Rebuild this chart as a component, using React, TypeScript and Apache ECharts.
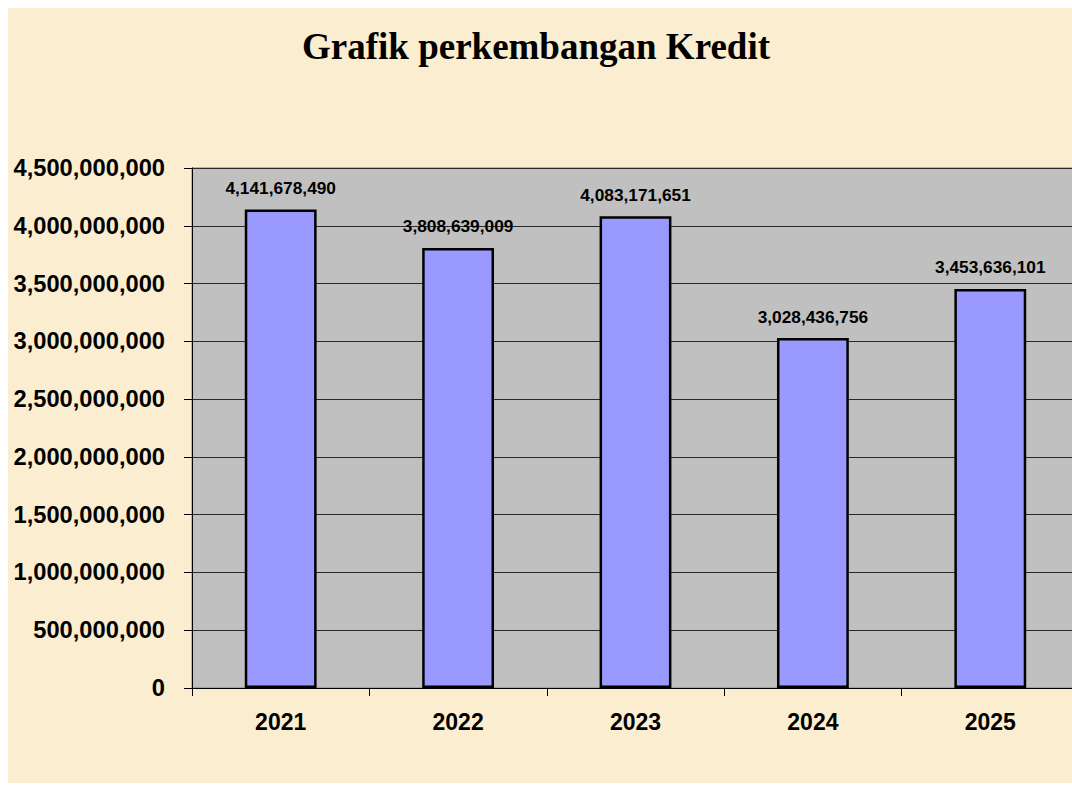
import React, { useEffect, useRef } from "react";
import * as echarts from "echarts";

const title = "Grafik perkembangan Kredit";
const years = ["2021", "2022", "2023", "2024", "2025"];
const kredit = [4141678490, 3808639009, 4083171651, 3028436756, 3453636101];
const yMin = 0;
const yMax = 4500000000;
const yStep = 500000000;

const fmt = (v: number) => Math.round(v).toLocaleString("en-US");

export default function App() {
  const ref = useRef<HTMLDivElement>(null);
  useEffect(() => {
    if (!ref.current) return;
    const chart = echarts.init(ref.current, undefined, { renderer: "svg" });
    chart.setOption({
      animation: false,
      backgroundColor: "#faedd0",
      title: {
        text: title,
        left: 289,
        top: 15,
        textStyle: {
          fontFamily: "'Liberation Serif', 'Times New Roman', serif",
          fontWeight: "bold",
          fontSize: 37,
          color: "#000",
        },
      },
      grid: {
        left: 184,
        top: 160,
        width: 887,
        height: 520,
        outerBoundsMode: "none",
        show: true,
        backgroundColor: "#c0c0c0",
        borderColor: "#808080",
        borderWidth: 1,
      },
      xAxis: {
        type: "category",
        data: years,
        axisLine: { show: true, lineStyle: { color: "#000", width: 1 } },
        axisTick: { show: true, alignWithLabel: false, length: 8, lineStyle: { color: "#000" } },
        axisLabel: {
          margin: 22,
          fontFamily: "'Liberation Sans', Arial, sans-serif",
          fontWeight: "bold",
          fontSize: 23,
          color: "#000",
        },
      },
      yAxis: {
        type: "value",
        min: yMin,
        max: yMax,
        interval: yStep,
        axisLine: { show: true, lineStyle: { color: "#000", width: 1 } },
        axisTick: { show: true, length: 8, lineStyle: { color: "#000" } },
        splitLine: { show: true, lineStyle: { color: "#2a2a2a", width: 1 } },
        axisLabel: {
          margin: 27,
          formatter: (v: number) => fmt(v),
          fontFamily: "'Liberation Sans', Arial, sans-serif",
          fontWeight: "bold",
          fontSize: 23.7,
          color: "#000",
        },
      },
      series: [
        {
          type: "bar",
          data: kredit,
          barWidth: "40.5%",
          itemStyle: { color: "#9999ff", borderColor: "#000", borderWidth: 2.5 },
          label: {
            show: true,
            position: "top",
            distance: 13,
            formatter: (p: any) => fmt(p.value),
            fontFamily: "'Liberation Sans', Arial, sans-serif",
            fontWeight: "bold",
            fontSize: 17.3,
            color: "#000",
          },
        },
      ],
    });
    return () => chart.dispose();
  }, []);
  return (
    <div
      ref={ref}
      style={{ position: "fixed", left: 8, top: 8, width: 1064, height: 775 }}
    />
  );
}
